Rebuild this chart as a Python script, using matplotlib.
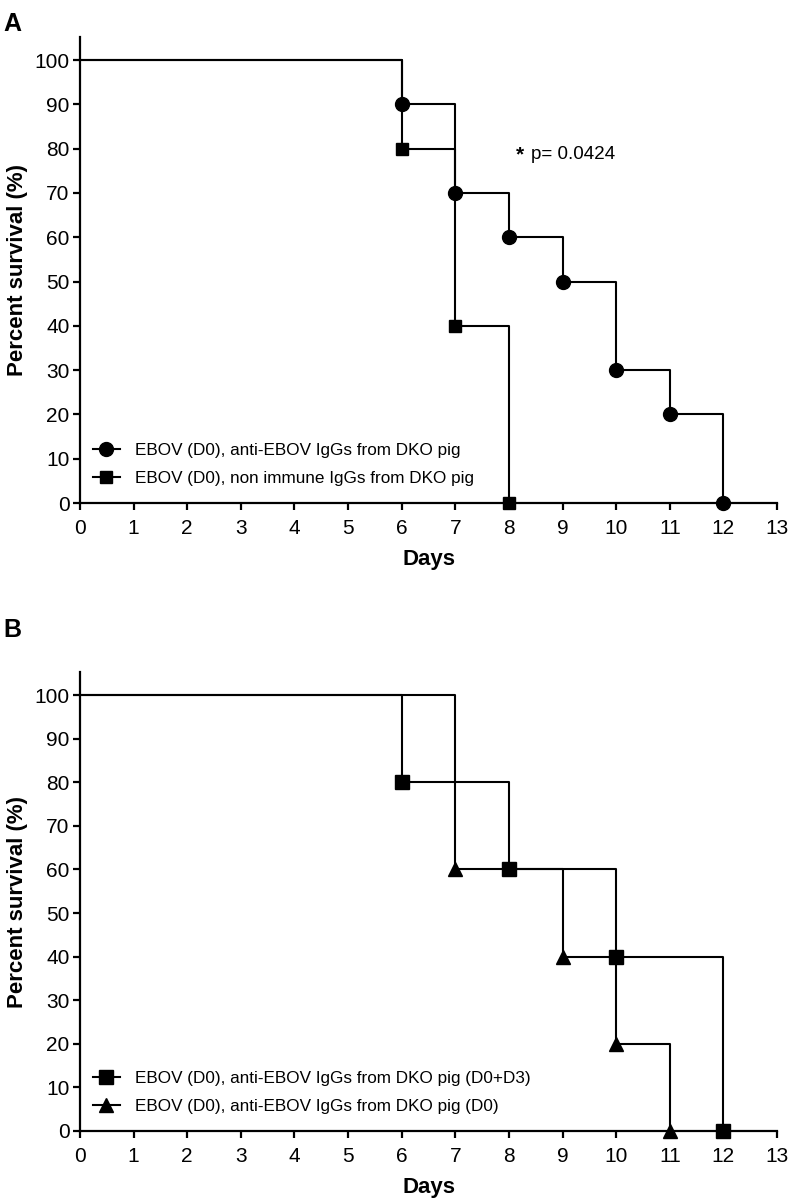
import matplotlib.pyplot as plt
from matplotlib.lines import Line2D

plt.rcParams['font.family'] = ['Liberation Sans', 'DejaVu Sans']

# panel A data
a_days_anti = [0, 6, 7, 8, 9, 10, 11, 12]
a_surv_anti = [100, 90, 70, 60, 50, 30, 20, 0]
a_days_non = [0, 6, 7, 8]
a_surv_non = [100, 80, 40, 0]
a_labels = ['EBOV (D0), anti-EBOV IgGs from DKO pig',
            'EBOV (D0), non immune IgGs from DKO pig']

# panel B data
b_days_d03 = [0, 6, 8, 10, 12]
b_surv_d03 = [100, 80, 60, 40, 0]
b_days_d0 = [0, 7, 9, 10, 11]
b_surv_d0 = [100, 60, 40, 20, 0]
b_labels = ['EBOV (D0), anti-EBOV IgGs from DKO pig (D0+D3)',
            'EBOV (D0), anti-EBOV IgGs from DKO pig (D0)']

x_ticks = list(range(0, 14))
y_ticks = list(range(0, 101, 10))


def km_curve(ax, days, surv, marker, ms):
    ax.step(days, surv, where='post', color='black', lw=1.5, clip_on=False, zorder=3)
    ax.plot(days[1:], surv[1:], ls='none', marker=marker, ms=ms, color='black',
            clip_on=False, zorder=4)
    return Line2D([], [], color='black', lw=1.5, marker=marker, ms=ms)


def style_axes(ax, ytop):
    ax.set_xlim(0, 13)
    ax.set_ylim(0, ytop)
    ax.set_xticks(x_ticks)
    ax.set_yticks(y_ticks)
    for s in ['top', 'right']:
        ax.spines[s].set_visible(False)
    for s in ['left', 'bottom']:
        ax.spines[s].set_linewidth(1.6)
    ax.tick_params(direction='out', length=5, width=1.6, labelsize=15)
    ax.tick_params(axis='x', pad=6.5)
    ax.tick_params(axis='y', pad=2.5)
    ax.set_xlabel('Days', fontsize=16, fontweight='bold', labelpad=8)
    ax.set_ylabel('Percent survival (%)', fontsize=16, fontweight='bold', labelpad=5)


def add_legend(ax, handles, labels):
    ax.legend(handles, labels, loc='lower left', bbox_to_anchor=(-0.007, 0.0),
              frameon=False, fontsize=12.3, handlelength=1.6, handletextpad=0.88,
              labelspacing=0.72, borderaxespad=0.62)


fig = plt.figure(figsize=(7.89, 12), dpi=100)

axA = fig.add_axes([0.1014, 0.5808, 0.8834, 0.3883])
h1 = km_curve(axA, a_days_anti, a_surv_anti, 'o', 10)
h2 = km_curve(axA, a_days_non, a_surv_non, 's', 8)
style_axes(axA, 105.2)
add_legend(axA, [h1, h2], a_labels)
axA.text(8.13, 78.6, '*', fontsize=15, fontweight='bold', va='center', ha='left')
axA.text(8.42, 78.6, 'p= 0.0424', fontsize=13.6, va='center', ha='left')

axB = fig.add_axes([0.1014, 0.0575, 0.8834, 0.3825])
h3 = km_curve(axB, b_days_d03, b_surv_d03, 's', 10)
h4 = km_curve(axB, b_days_d0, b_surv_d0, '^', 10)
style_axes(axB, 105.3)
add_legend(axB, [h3, h4], b_labels)

fig.text(0.004, 0.99, 'A', fontsize=18, fontweight='bold', va='top', ha='left')
fig.text(0.004, 0.485, 'B', fontsize=18, fontweight='bold', va='top', ha='left')

fig.savefig('out.png', dpi=100)
